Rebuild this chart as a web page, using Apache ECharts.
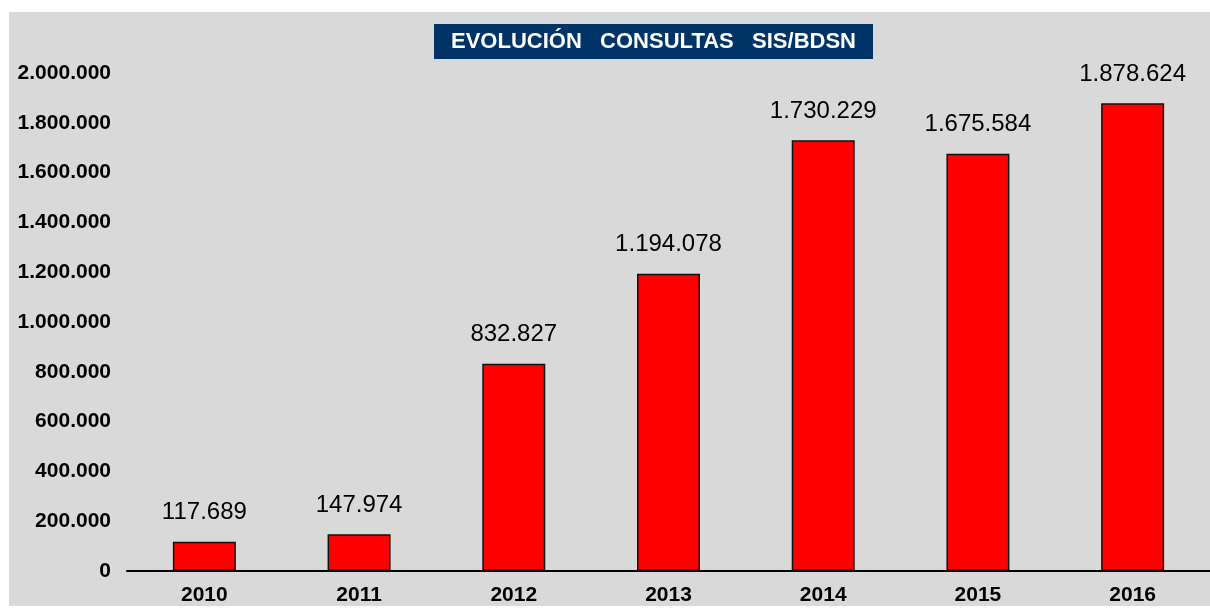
<!DOCTYPE html>
<html>
<head>
<meta charset="utf-8">
<script src="https://cdn.jsdelivr.net/npm/echarts@6/dist/echarts.min.js"></script>
<style>
  html, body { margin: 0; padding: 0; background: #fff; }
  #chart { width: 1210px; height: 616px; }
</style>
</head>
<body>
<div id="chart"></div>
<script>
// años y número de consultas
var years = ['2010', '2011', '2012', '2013', '2014', '2015', '2016'];
var consultas = [117689, 147974, 832827, 1194078, 1730229, 1675584, 1878624];
var titleText = 'EVOLUCIÓN   CONSULTAS   SIS/BDSN';

// formato con puntos de miles
function fmt(v) {
    return String(v).replace(/\B(?=(\d{3})+(?!\d))/g, '.');
}

var chart = echarts.init(document.getElementById('chart'));
var option = {
    backgroundColor: '#ffffff',
    animation: false,
    graphic: [
        {
            type: 'rect',
            z: -10,
            shape: { x: 9, y: 12, width: 1201, height: 594 },
            style: { fill: '#d9d9d9' }
        }
    ],
    title: {
        text: titleText,
        left: 434,
        top: 24,
        backgroundColor: '#003366',
        padding: [7, 17, 6, 17],
        textStyle: {
            color: '#ffffff',
            fontFamily: 'Liberation Sans, Arial',
            fontWeight: 'bold',
            fontSize: 22
        }
    },
    grid: {
        left: 127,
        right: -2,
        top: 73,
        bottom: 45
    },
    xAxis: {
        type: 'category',
        data: years,
        axisLine: { lineStyle: { color: '#000', width: 2 } },
        axisTick: { length: 5, lineStyle: { color: '#000', width: 2 } },
        axisLabel: {
            color: '#000',
            fontFamily: 'Liberation Sans, Arial',
            fontWeight: 'bold',
            fontSize: 21,
            margin: 14
        }
    },
    yAxis: {
        type: 'value',
        min: 0,
        max: 2000000,
        interval: 200000,
        splitLine: { show: false },
        axisLine: { show: false },
        axisTick: { show: false },
        axisLabel: {
            color: '#000',
            fontFamily: 'Liberation Sans, Arial',
            fontWeight: 'bold',
            fontSize: 21,
            margin: 16,
            formatter: function (v) { return fmt(v); }
        }
    },
    series: [
        {
            type: 'bar',
            data: consultas,
            barWidth: 63,
            itemStyle: {
                color: '#ff0000',
                borderColor: '#111',
                borderWidth: 1.5
            },
            label: {
                show: true,
                position: 'top',
                distance: 17,
                color: '#000',
                fontFamily: 'Liberation Sans, Arial',
                fontSize: 24,
                formatter: function (p) { return fmt(p.value); }
            }
        }
    ]
};
chart.setOption(option);
</script>
</body>
</html>
